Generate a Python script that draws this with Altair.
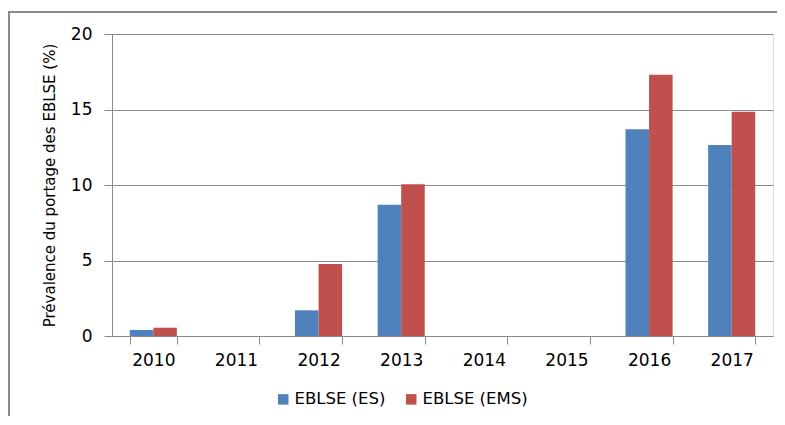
import altair as alt
import pandas as pd

years = ["2010", "2011", "2012", "2013", "2014", "2015", "2016", "2017"]
es_values = [0.4, 0.0, 1.7, 8.7, 0.0, 0.0, 13.7, 12.65]
ems_values = [0.55, 0.0, 4.77, 10.05, 0.0, 0.0, 17.3, 14.85]
series = ["EBLSE (ES)", "EBLSE (EMS)"]
colors = ["#4F81BD", "#C0504D"]
y_ticks = [0, 5, 10, 15, 20]

rows = []
for i, yr in enumerate(years):
    rows.append({"year": yr, "series": series[0], "value": es_values[i]})
    rows.append({"year": yr, "series": series[1], "value": ems_values[i]})
df = pd.DataFrame(rows)

FONT = "DejaVu Sans"
GRAY = "#8a8a8a"

bars = alt.Chart(df).mark_bar().encode(
    x=alt.X("year:N", sort=years,
            scale=alt.Scale(paddingInner=0.43, paddingOuter=0.215),
            axis=alt.Axis(title=None, labelAngle=0, tickBand="extent",
                          tickSize=8, labelPadding=8, labelFontSize=17,
                          labelFont=FONT, labelColor="#000000",
                          domainColor=GRAY, tickColor=GRAY, grid=False)),
    xOffset=alt.XOffset("series:N", sort=series,
                        scale=alt.Scale(paddingInner=0, paddingOuter=0)),
    y=alt.Y("value:Q", scale=alt.Scale(domain=[0, 20], nice=False),
            axis=alt.Axis(title="Prévalence du portage des EBLSE (%)",
                          values=y_ticks, tickSize=8, labelPadding=12,
                          labelFontSize=17, labelFont=FONT, labelColor="#000000",
                          titleFont=FONT, titleFontSize=15, titleFontWeight="normal",
                          titleColor="#000000", titlePadding=13,
                          domainColor=GRAY, tickColor=GRAY,
                          gridColor=GRAY, gridOpacity=1)),
    color=alt.Color("series:N", sort=series,
                    scale=alt.Scale(domain=series, range=colors),
                    legend=alt.Legend(title=None, orient="none", direction="horizontal",
                                      legendX=163, legendY=357,
                                      symbolType="square", symbolSize=110,
                                      symbolStrokeWidth=0, symbolOpacity=1,
                                      labelFont=FONT, labelFontSize=16.5,
                                      labelColor="#000000", labelOffset=3,
                                      columnPadding=17)),
)

frame = alt.Chart(alt.Data(values=[{"a": 1}])).mark_rect(
    filled=False, stroke="#8c8c8c", strokeWidth=2
).encode(
    x=alt.value(-103), x2=alt.value(720),
    y=alt.value(-22), y2=alt.value(440),
)

chart = alt.layer(frame, bars).properties(
    width=661, height=302,
    autosize=alt.AutoSizeParams(type="none"),
    padding={"left": 104, "top": 26, "right": 4, "bottom": 80},
).configure_view(stroke=None).configure(background="#ffffff")

chart.save("out.html", embed_options={"renderer": "svg", "actions": False})
